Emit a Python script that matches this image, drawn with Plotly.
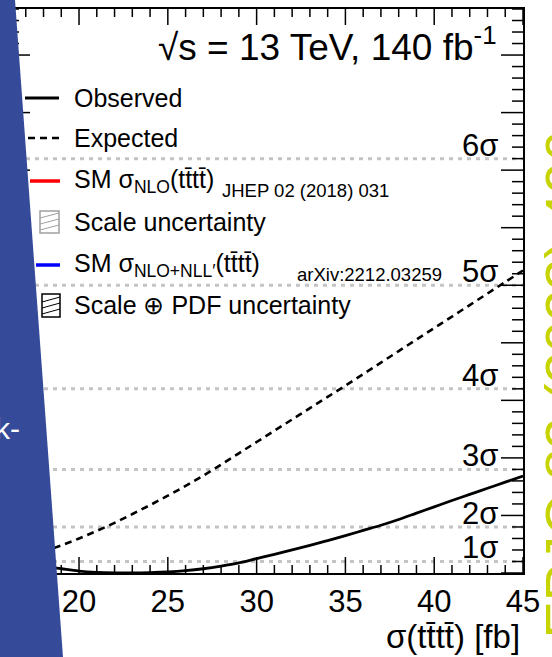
import plotly.graph_objects as go

# Cross-section scan points, sigma(tttt) in fb
xsec = [16, 17, 18, 19, 20, 21, 22, 23, 24, 25, 26, 27, 28, 29, 30,
        31, 32, 33, 34, 35, 36, 37, 38, 39, 40, 41, 42, 43, 44, 45]
# -2 Delta ln L, observed
observed = [1.20, 0.85, 0.58, 0.37, 0.17, 0.06, 0.01, 0.0, 0.03, 0.09, 0.20, 0.37,
            0.60, 0.88, 1.25, 1.62, 2.00, 2.40, 2.82, 3.25, 3.70, 4.15, 4.65, 5.20,
            5.75, 6.30, 6.83, 7.36, 7.89, 8.42]
# -2 Delta ln L, expected
expected = [0.90, 1.35, 1.85, 2.40, 3.00, 3.66, 4.36, 5.12, 5.90, 6.72, 7.57, 8.46,
            9.42, 10.40, 11.38, 12.36, 13.34, 14.32, 15.30, 16.28, 17.28, 18.28, 19.28,
            20.28, 21.28, 22.28, 23.28, 24.28, 25.28, 26.28]

# Significance reference levels
sigma_levels = [1, 2, 3, 4, 5, 6]
sigma_labels = ["1σ", "2σ", "3σ", "4σ", "5σ", "6σ"]

x_ticks = [20, 25, 30, 35, 40, 45]
X_RANGE = [16, 45]
Y_RANGE = [0, 49]

W, H = 552, 657
ML, MR, MT, MB = 8, 29, 9, 84
PW = W - ML - MR
PH = H - MT - MB
FONT = "Liberation Sans, Arial, Helvetica, sans-serif"


def px(x):
    return (x - ML) / PW


def py(y):
    return (MT + PH - y) / PH


fig = go.Figure()

fig.add_trace(go.Scatter(x=xsec, y=expected, mode="lines", line_shape="spline",
                         line=dict(color="black", width=2.6, dash="7px,5px"),
                         showlegend=False, hoverinfo="skip"))
fig.add_trace(go.Scatter(x=xsec, y=observed, mode="lines", line_shape="spline",
                         line=dict(color="black", width=2.8),
                         showlegend=False, hoverinfo="skip"))

shapes = []
annotations = []

# dotted significance lines with their labels
for n, lab in zip(sigma_levels, sigma_labels):
    shapes.append(dict(type="line", xref="paper", yref="y", x0=0, x1=1, y0=n * n, y1=n * n,
                       line=dict(color="#c4c4c4", width=3, dash="4px,5px"), layer="below"))
    annotations.append(dict(text=lab, xref="paper", yref="y", x=px(500), y=n * n,
                            xanchor="right", yanchor="bottom", yshift=-6, showarrow=False,
                            font=dict(family=FONT, size=31, color="black")))

# frame ticks: long every 5 units, short every unit, on all four sides
TICK = dict(color="black", width=1.5)
for v in range(X_RANGE[0], X_RANGE[1] + 1):
    ln = 16 if v % 5 == 0 else 8
    for base, sgn in ((0, 1), (1, -1)):
        shapes.append(dict(type="line", xref="x", yref="paper", x0=v, x1=v,
                           y0=base, y1=base + sgn * ln / PH, line=TICK))
for v in range(Y_RANGE[0], Y_RANGE[1] + 1):
    ln = 22 if v % 5 == 0 else 11
    for base, sgn in ((0, 1), (1, -1)):
        shapes.append(dict(type="line", xref="paper", yref="y", y0=v, y1=v,
                           x0=base, x1=base + sgn * ln / PW, line=TICK))

# legend drawn by hand
rows = [98, 138, 181, 222, 265, 305]
legend_text = [
    "Observed",
    "Expected",
    "SM σ<sub>NLO</sub>(tt̄tt̄)",
    "Scale uncertainty",
    "SM σ<sub>NLO+NLL′</sub>(tt̄tt̄)",
    "Scale ⊕ PDF uncertainty",
]
for yy, t in zip(rows, legend_text):
    annotations.append(dict(text=t, xref="paper", yref="paper", x=px(72), y=py(yy),
                            xanchor="left", yanchor="middle", showarrow=False,
                            font=dict(family=FONT, size=25, color="black")))
annotations.append(dict(text="JHEP 02 (2018) 031", xref="paper", yref="paper",
                        x=px(220), y=py(191), xanchor="left", yanchor="middle",
                        showarrow=False, font=dict(family=FONT, size=18.5, color="black")))
annotations.append(dict(text="arXiv:2212.03259", xref="paper", yref="paper",
                        x=px(295), y=py(274), xanchor="left", yanchor="middle",
                        showarrow=False, font=dict(family=FONT, size=18.5, color="black")))


def seg(x0, y0, x1, y1, color, width, dash="solid"):
    shapes.append(dict(type="line", xref="paper", yref="paper",
                       x0=px(x0), y0=py(y0), x1=px(x1), y1=py(y1),
                       line=dict(color=color, width=width, dash=dash)))


seg(25, rows[0], 59, rows[0], "black", 3)
seg(28, rows[1], 60, rows[1], "black", 2.6, "7px,5px")
seg(30, rows[2], 60, rows[2], "red", 3.5)
seg(36, rows[4], 60, rows[4], "blue", 3.5)


def hatch_box(x0, y0, x1, y1, color):
    shapes.append(dict(type="rect", xref="paper", yref="paper",
                       x0=px(x0), y0=py(y0), x1=px(x1), y1=py(y1),
                       line=dict(color=color, width=1.5), fillcolor="rgba(0,0,0,0)"))
    for k in range(3):
        yb = y1 - 3 - k * 6
        seg(x0, yb, x1, yb - 5, color, 1)


hatch_box(40, 211, 59, 233, "#a0a0a0")
hatch_box(42, 294, 60, 317, "black")

# energy / luminosity label
annotations.append(dict(text="√s = 13 TeV, 140 fb<sup>-1</sup>", xref="paper", yref="paper",
                        x=px(499), y=py(45), xanchor="right", yanchor="middle",
                        showarrow=False, font=dict(family=FONT, size=37, color="black")))
# x axis title
annotations.append(dict(text="σ(tt̄tt̄) [fb]", xref="paper", yref="paper",
                        x=px(522), y=py(636), xanchor="right", yanchor="middle",
                        showarrow=False, font=dict(family=FONT, size=33, color="black")))

# side banner
bx = [0, 15, 63, 0]
by = [0, 0, H, H]
path = "M " + " L ".join(f"{px(a)},{py(b)}" for a, b in zip(bx, by)) + " Z"
shapes.append(dict(type="path", xref="paper", yref="paper", path=path,
                   fillcolor="#354b9a", line=dict(width=0), layer="above"))
annotations.append(dict(text="k-", xref="paper", yref="paper", x=px(22), y=py(428),
                        xanchor="right", yanchor="middle", showarrow=False,
                        font=dict(family=FONT, size=30, color="white")))

# journal reference along the right edge
annotations.append(dict(text="EPJC 83 (2023) 496", xref="paper", yref="paper",
                        x=px(530), y=py(385), xanchor="left", yanchor="middle",
                        textangle=-90, showarrow=False,
                        font=dict(family=FONT, size=56, color="#c8d400")))

fig.update_layout(
    width=W, height=H,
    margin=dict(l=ML, r=MR, t=MT, b=MB),
    paper_bgcolor="white", plot_bgcolor="white",
    shapes=shapes, annotations=annotations,
    showlegend=False,
    xaxis=dict(range=X_RANGE, tickvals=x_ticks, ticks="",
               showline=True, linecolor="black", linewidth=2, mirror=True,
               showgrid=False, zeroline=False,
               tickfont=dict(family=FONT, size=31, color="black")),
    yaxis=dict(range=Y_RANGE, ticks="",
               showline=True, linecolor="black", linewidth=2, mirror=True,
               showgrid=False, zeroline=False, showticklabels=False),
)

fig.write_html("out.html")
